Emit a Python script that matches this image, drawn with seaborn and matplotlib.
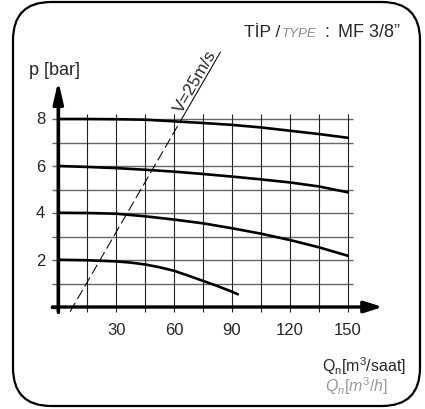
import numpy as np
import pandas as pd
import matplotlib
matplotlib.use("Agg")
import matplotlib.pyplot as plt
from matplotlib.patches import FancyBboxPatch
import seaborn as sns

# --- data ---
q_ticks = [30, 60, 90, 120, 150]
p_ticks = [2, 4, 6, 8]
q_grid = [15, 30, 45, 60, 75, 90, 105, 120, 135, 150]
p_grid = [1, 2, 3, 4, 5, 6, 7, 8]

q_8 = [0, 15, 30, 45, 60, 75, 90, 105, 120, 135, 150]
p_8 = [8.0, 8.0, 7.99, 7.97, 7.9, 7.83, 7.75, 7.64, 7.5, 7.36, 7.2]
q_6 = [0, 15, 30, 45, 60, 75, 90, 105, 120, 135, 150]
p_6 = [6.0, 5.96, 5.91, 5.84, 5.76, 5.66, 5.55, 5.43, 5.3, 5.13, 4.88]
q_4 = [0, 15, 30, 45, 60, 75, 90, 105, 120, 135, 150]
p_4 = [4.01, 4.0, 3.97, 3.86, 3.72, 3.56, 3.35, 3.12, 2.85, 2.54, 2.18]
q_2 = [0, 15, 30, 37.5, 45, 52.5, 60, 67.5, 75, 82.5, 90, 93]
p_2 = [2.01, 1.99, 1.94, 1.89, 1.81, 1.69, 1.54, 1.33, 1.11, 0.89, 0.65, 0.54]

# V = 25 m/s line (dashed inside the grid, solid under the label)
v_q = [6.1, 84.0]
v_p = [-0.2, 10.85]
v_split_p = 8.1

sns.set_style("white")
plt.rcParams["font.family"] = ["Liberation Sans", "DejaVu Sans"]
plt.rcParams["mathtext.fontset"] = "custom"
plt.rcParams["mathtext.rm"] = "Liberation Sans"
plt.rcParams["mathtext.it"] = "Liberation Sans:italic"

W, H = 425, 410
fig = plt.figure(figsize=(W / 100, H / 100), dpi=100)

def fx(x):
    return x / W

def fy(y):
    return 1 - y / H

# axes placed in pixel terms; x=0 at px 58.3, 1.93 px per unit; p=0 at py 308, 23.5 px per bar
ax = fig.add_axes([fx(40), fy(320), 350 / W, 240 / H])
ax.set_xlim((40 - 58.3) * 0.518, (390 - 58.3) * 0.518)
ax.set_ylim((308 - 320) / 23.5, (308 - 80) / 23.5)

# grid
ax.hlines(p_grid, -3.1, 152.5, color="#666666", lw=1.0, zorder=1)
ax.vlines(q_grid, -0.22, 8.2, color="#222222", lw=0.8, zorder=1)

# curves
curves = pd.concat([
    pd.DataFrame({"Q": q_8, "p": p_8, "curve": "8"}),
    pd.DataFrame({"Q": q_6, "p": p_6, "curve": "6"}),
    pd.DataFrame({"Q": q_4, "p": p_4, "curve": "4"}),
    pd.DataFrame({"Q": q_2, "p": p_2, "curve": "2"}),
])
sns.lineplot(data=curves, x="Q", y="p", hue="curve", units="curve",
             estimator=None, palette=["black"] * 4, lw=1.9, legend=False,
             ax=ax, zorder=3)

# velocity line
slope = (v_p[1] - v_p[0]) / (v_q[1] - v_q[0])
q_split = v_q[0] + (v_split_p - v_p[0]) / slope
ax.plot([v_q[0], q_split], [v_p[0], v_split_p], color="black", lw=0.75,
        dashes=(10, 4), zorder=2, clip_on=False)
ax.plot([q_split, v_q[1]], [v_split_p, v_p[1]], color="black", lw=0.75,
        zorder=2, clip_on=False)
p1 = ax.transData.transform((q_split, v_split_p))
p2 = ax.transData.transform((v_q[1], v_p[1]))
ang = np.degrees(np.arctan2(p2[1] - p1[1], p2[0] - p1[0]))
ax.text((q_split + v_q[1]) / 2, (v_split_p + v_p[1]) / 2, "V=25m/s",
        rotation=ang, rotation_mode="anchor", ha="center", va="bottom",
        fontsize=12.5)

# axes with arrows
ax.plot([0, 0], [-0.2, 9.0], color="black", lw=2.4, clip_on=False, zorder=4)
ax.plot([-3.1, 0], [0, 0], color="black", lw=2.4, clip_on=False, zorder=4)
ax.annotate("", xy=(0, 9.62), xytext=(0, -0.2),
            arrowprops=dict(arrowstyle="-|>,head_length=1.3,head_width=0.3",
                            lw=2.4, color="black", shrinkA=0, shrinkB=0),
            zorder=4)
ax.annotate("", xy=(168, 0), xytext=(-3.1, 0),
            arrowprops=dict(arrowstyle="-|>,head_length=1.1,head_width=0.35",
                            lw=2.4, color="black", shrinkA=0, shrinkB=0),
            zorder=4)

for q in q_ticks:
    ax.text(q, -0.95, str(q), ha="center", va="center", fontsize=12)
for p in p_ticks:
    ax.text(-6.8, p, str(p), ha="right", va="center", fontsize=12)

ax.set_axis_off()

# texts
fig.text(fx(29), fy(75), "p [bar]", fontsize=13, ha="left", va="baseline")
fig.text(fx(244), fy(37), "TİP /", fontsize=12.5, ha="left", va="baseline")
fig.text(fx(282), fy(37), "TYPE", fontsize=9.5, style="italic",
         color="#8a8a8a", ha="left", va="baseline")
fig.text(fx(324), fy(37), ":", fontsize=13, ha="left", va="baseline")
fig.text(fx(400), fy(37), "MF 3/8\u201d", fontsize=13, ha="right", va="baseline")
fig.text(fx(406), fy(372), r"Q$_\mathregular{n}$[m$^\mathregular{3}$/saat]",
         fontsize=11.5, ha="right", va="baseline")
fig.text(fx(388), fy(392), r"$\mathit{Q_n[m^3/h]}$", fontsize=11.5,
         color="#999999", ha="right", va="baseline")

# rounded frame
frame = FancyBboxPatch((fx(13), fy(407)), fx(420) - fx(13), fy(3) - fy(407),
                       boxstyle="round,pad=0,rounding_size=0.09",
                       transform=fig.transFigure, fill=False,
                       edgecolor="black", lw=1.6, mutation_aspect=W / H)
fig.add_artist(frame)

fig.savefig("out.png", dpi=100)
